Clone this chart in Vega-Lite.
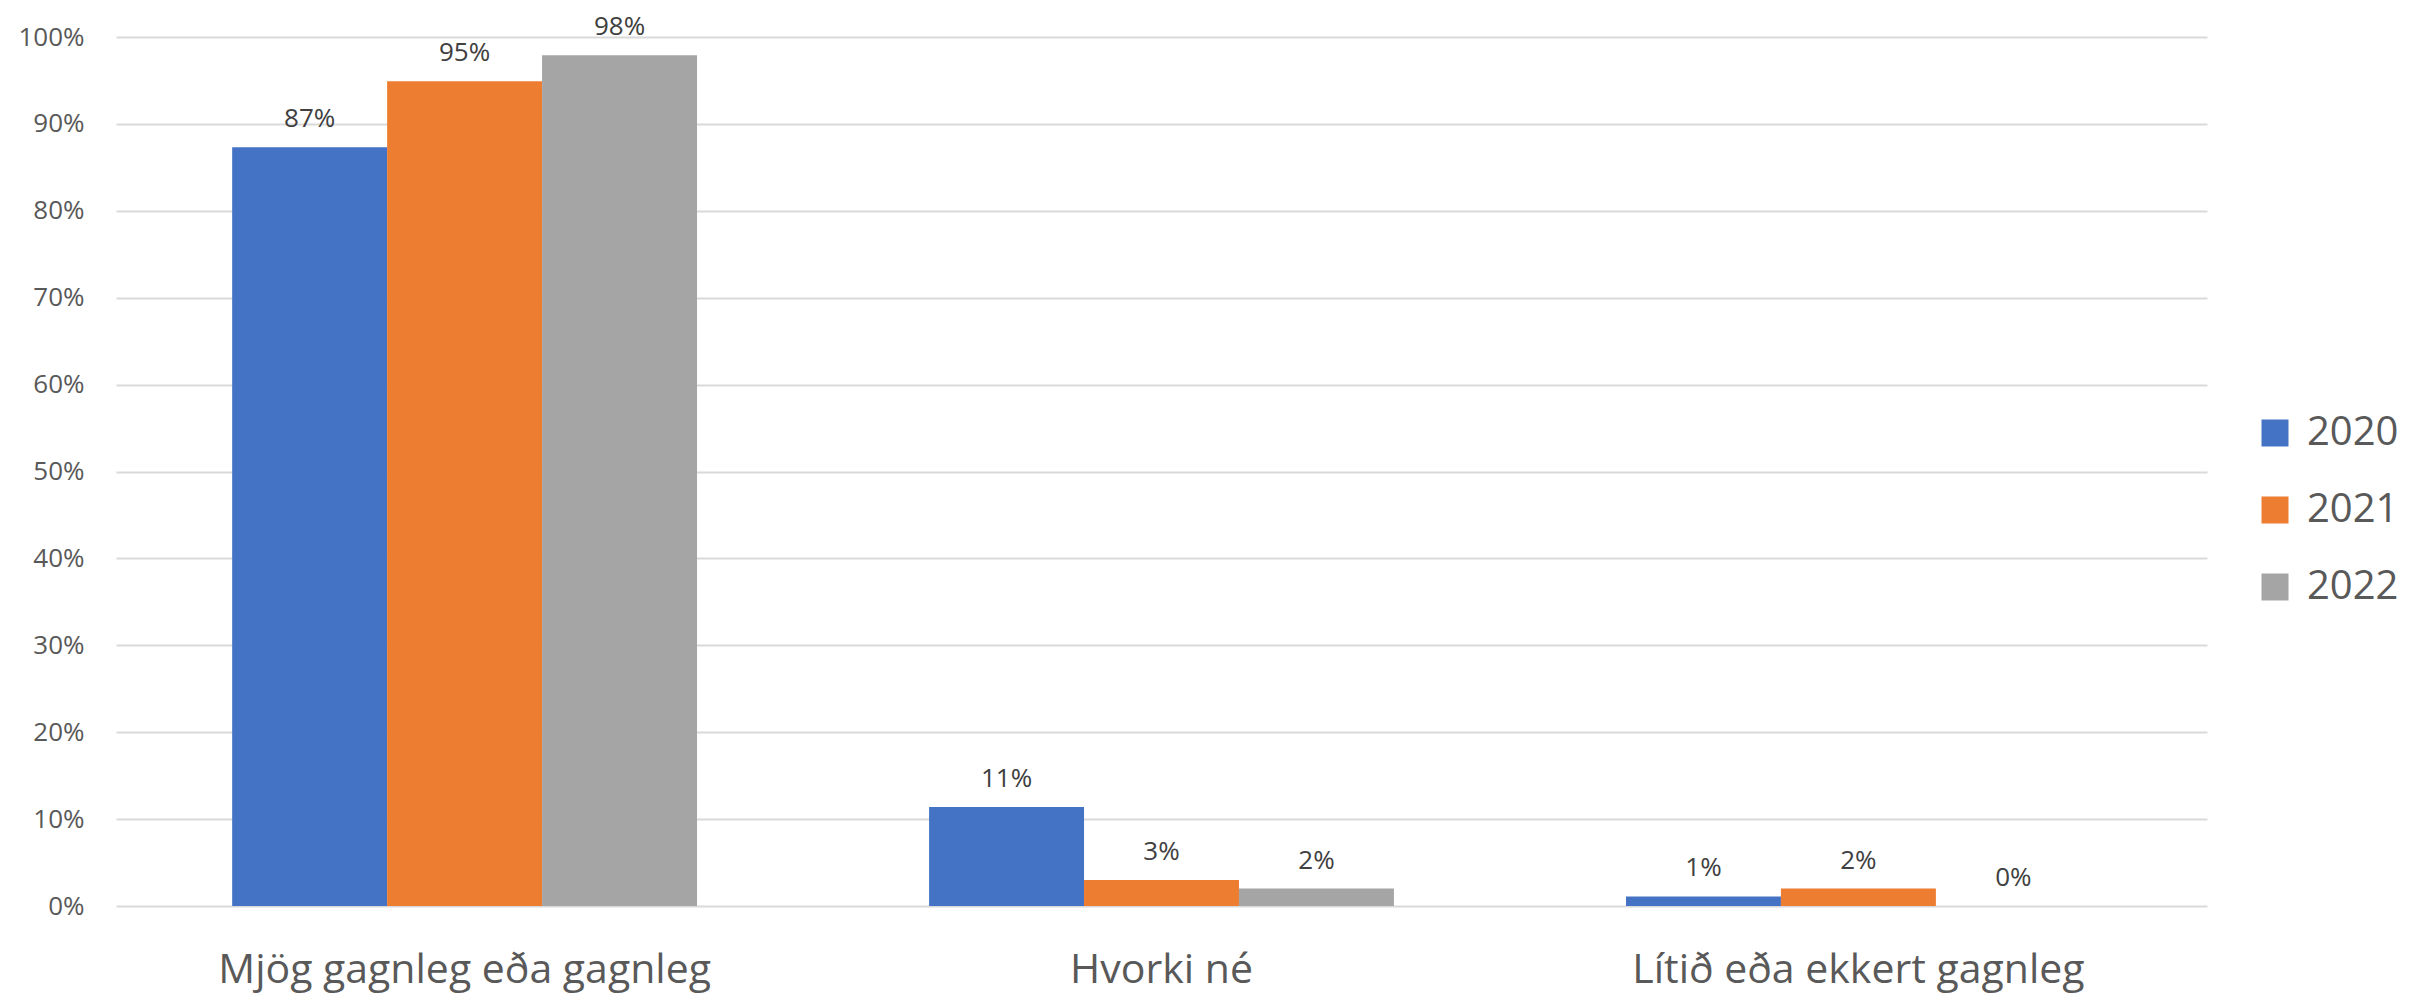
{
  "$schema": "https://vega.github.io/schema/vega-lite/v6.json",
  "width": 2091,
  "height": 869,
  "autosize": {"type": "none"},
  "padding": {"left": 116, "top": 37, "right": 210, "bottom": 87},
  "background": "white",
  "config": {"view": {"stroke": null}, "font": "Open Sans"},
  "data": {
    "values": [
      {"category": "Mjög gagnleg eða gagnleg", "year": "2020", "value": 0.873},
      {"category": "Mjög gagnleg eða gagnleg", "year": "2021", "value": 0.949},
      {"category": "Mjög gagnleg eða gagnleg", "year": "2022", "value": 0.979},
      {"category": "Hvorki né", "year": "2020", "value": 0.114},
      {"category": "Hvorki né", "year": "2021", "value": 0.03},
      {"category": "Hvorki né", "year": "2022", "value": 0.02},
      {"category": "Lítið eða ekkert gagnleg", "year": "2020", "value": 0.011},
      {"category": "Lítið eða ekkert gagnleg", "year": "2021", "value": 0.02},
      {"category": "Lítið eða ekkert gagnleg", "year": "2022", "value": 0.0}
    ]
  },
  "encoding": {
    "x": {
      "field": "category",
      "type": "nominal",
      "sort": ["Mjög gagnleg eða gagnleg", "Hvorki né", "Lítið eða ekkert gagnleg"],
      "scale": {"paddingInner": 0.333, "paddingOuter": 0.1667},
      "axis": {
        "title": null,
        "labelAngle": 0,
        "labelFontSize": 41,
        "labelLimit": 0,
        "labelColor": "#595959",
        "ticks": false,
        "tickSize": 0,
        "domain": false,
        "labelPadding": 76,
        "labelBaseline": "alphabetic"
      }
    },
    "xOffset": {
      "field": "year",
      "type": "nominal",
      "scale": {"paddingInner": 0, "paddingOuter": 0}
    },
    "y": {
      "field": "value",
      "type": "quantitative",
      "scale": {"domain": [0, 1]},
      "axis": {
        "title": null,
        "format": ".0%",
        "values": [0, 0.1, 0.2, 0.3, 0.4, 0.5, 0.6, 0.7, 0.8, 0.9, 1.0],
        "gridColor": "#d9d9d9",
        "gridWidth": 2,
        "domain": false,
        "ticks": false,
        "tickSize": 0,
        "labelFontSize": 26,
        "labelColor": "#595959",
        "labelPadding": 32
      }
    }
  },
  "layer": [
    {
      "mark": {"type": "bar"},
      "encoding": {
        "color": {
          "field": "year",
          "type": "nominal",
          "scale": {"domain": ["2020", "2021", "2022"], "range": ["#4472C4", "#ED7D31", "#A5A5A5"]},
          "legend": {
            "title": null,
            "orient": "none",
            "legendX": 2139,
            "legendY": 376,
            "symbolType": "square",
            "symbolSize": 729,
            "symbolStrokeWidth": 0,
            "labelFontSize": 40,
            "labelColor": "#595959",
            "labelOffset": 12,
            "rowPadding": 37
          }
        }
      }
    },
    {
      "mark": {"type": "text", "baseline": "alphabetic", "dy": -20, "fontSize": 26, "color": "#404040"},
      "encoding": {"text": {"field": "value", "type": "quantitative", "format": ".0%"}}
    }
  ]
}
